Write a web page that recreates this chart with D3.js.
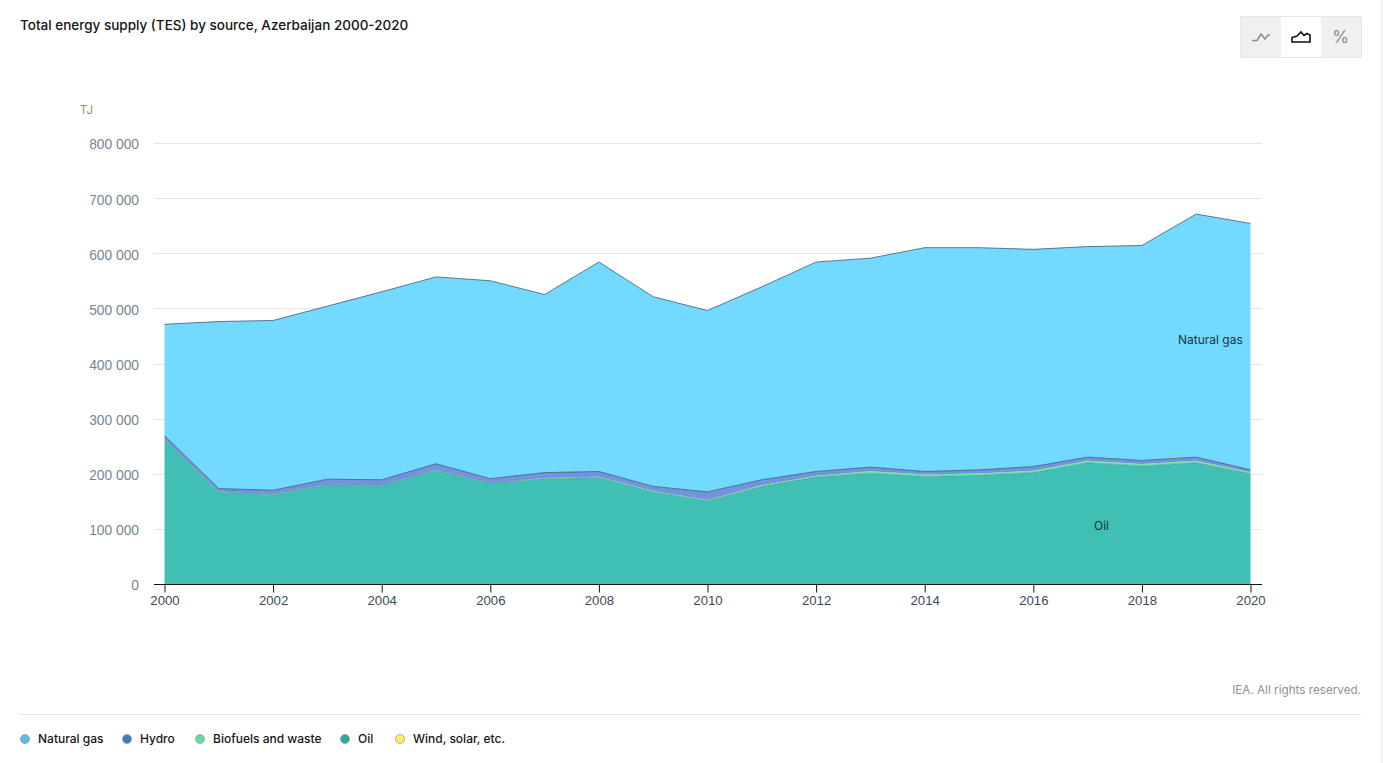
<!DOCTYPE html>
<html>
<head>
<meta charset="utf-8">
<script src="https://cdn.jsdelivr.net/npm/d3@7"></script>
<style>
  html, body { margin: 0; padding: 0; background: #fff; overflow: hidden; }
  svg { display: block; font-family: Inter, "Noto Sans", sans-serif; }
</style>
</head>
<body>
<script>
// data (TJ)
const years = d3.range(2000, 2021);
const oil = [262000, 168000, 163000, 181000, 179000, 207000, 183000, 192000, 194000, 168000, 152000, 178000, 195000, 202000, 196000, 198000, 203000, 221000, 215000, 221000, 201000];
const biofuels = [500, 500, 500, 500, 500, 500, 500, 1000, 1500, 1500, 1500, 2000, 2500, 3500, 3500, 3500, 3500, 3500, 3500, 3500, 2500];
const hydro = [7500, 5500, 7500, 9500, 10500, 11500, 8500, 10000, 9500, 8500, 14500, 10000, 7500, 7500, 5500, 6500, 7500, 6500, 6500, 6500, 4500];
const gas = [202000, 303000, 308000, 314000, 341000, 339000, 359000, 323000, 380000, 344000, 329000, 350000, 380000, 379000, 406000, 403000, 394000, 382000, 390000, 441000, 447000];
const wind = [0, 0, 0, 0, 0, 0, 0, 0, 0, 0, 0, 0, 0, 0, 0, 0, 0, 0, 0, 0, 0];

const yTicks = [0, 100000, 200000, 300000, 400000, 500000, 600000, 700000, 800000];
const xTicks = [2000, 2002, 2004, 2006, 2008, 2010, 2012, 2014, 2016, 2018, 2020];

const seriesKeys = ["oil", "biofuels", "hydro", "gas", "wind"];
const seriesColors = { oil: "#3abeb2", biofuels: "#6fe6a2", hydro: "#6f90dc", gas: "#6fd8ff", wind: "#f5e663" };
const lineOpacity = { oil: 0.3, biofuels: 0, hydro: 0.75, gas: 0.75, wind: 0 };
const legendNames = ["Natural gas", "Hydro", "Biofuels and waste", "Oil", "Wind, solar, etc."];
const legendColors = ["#5cbce6", "#3a7cc4", "#66dba0", "#2fa89c", "#fcef62"];
const legendX = [25, 127, 200, 345, 400];

const w = 1383;
const h = 763;

const table = years.map((year, i) => ({
  year,
  oil: oil[i],
  biofuels: biofuels[i],
  hydro: hydro[i],
  gas: gas[i],
  wind: wind[i],
}));

const xScale = d3.scaleLinear().domain([2000, 2020]).range([164.5, 1250.5]);
const yScale = d3.scaleLinear().domain([0, 800000]).range([584.5, 143.5]);

const svg = d3.select("body").append("svg").attr("width", w).attr("height", h);

// page edge on the right
svg.append("line")
  .attr("x1", 1381.5).attr("x2", 1381.5)
  .attr("y1", 0).attr("y2", h)
  .attr("stroke", "#ececec");

// title
svg.append("text")
  .attr("x", 20).attr("y", 30)
  .attr("font-size", 13.5).attr("font-weight", 500)
  .attr("fill", "#141414")
  .text("Total energy supply (TES) by source, Azerbaijan 2000-2020");

// unit
svg.append("text")
  .attr("x", 80).attr("y", 114)
  .attr("font-size", 11.5).attr("fill", "#b08a63")
  .text("TJ");

// y axis and grid
const yAxis = d3.axisLeft(yScale)
  .tickValues(yTicks)
  .tickSize(0)
  .tickPadding(0)
  .tickFormat((d) => d3.format(",")(d).replace(/,/g, " "));

const yG = svg.append("g").attr("transform", "translate(139,1)").call(yAxis);
yG.select(".domain").remove();
yG.selectAll("text").attr("font-size", 13.8).attr("font-family", "inherit").attr("fill", "#76858f");

svg.append("g").selectAll("line")
  .data(yTicks.slice(1))
  .enter().append("line")
  .attr("x1", 154).attr("x2", 1262)
  .attr("y1", (d) => Math.floor(yScale(d)) + 0.5)
  .attr("y2", (d) => Math.floor(yScale(d)) + 0.5)
  .attr("stroke", "#e6e6e6");

// stacked areas
const stacked = d3.stack().keys(seriesKeys)(table);
const area = d3.area()
  .x((d) => xScale(d.data.year))
  .y0((d) => yScale(d[0]))
  .y1((d) => yScale(d[1]));
const topLine = d3.line()
  .x((d) => xScale(d.data.year))
  .y((d) => yScale(d[1]));

svg.append("g").selectAll("path")
  .data(stacked)
  .enter().append("path")
  .attr("d", area)
  .attr("fill", (d) => seriesColors[d.key])
  .attr("fill-opacity", (d) => (d.key === "wind" ? 0 : 0.97));

svg.append("g").selectAll("path")
  .data(stacked)
  .enter().append("path")
  .attr("d", topLine)
  .attr("fill", "none")
  .attr("stroke", "#33566b")
  .attr("stroke-opacity", (d) => lineOpacity[d.key])
  .attr("stroke-width", 1);

// x axis
const xAxis = d3.axisBottom(xScale)
  .tickValues(xTicks)
  .tickSize(8)
  .tickPadding(3)
  .tickFormat(d3.format("d"));

const xG = svg.append("g").attr("transform", "translate(0,584.5)").call(xAxis);
xG.select(".domain").attr("d", "M154,0H1262").attr("stroke", "#111");
xG.selectAll(".tick line").attr("stroke", "#111");
xG.selectAll("text").attr("font-size", 13.2).attr("font-family", "inherit").attr("fill", "#3d4a57");

// labels on the areas
svg.append("text")
  .attr("x", 1178).attr("y", 344)
  .attr("font-size", 12).attr("fill", "#1c3340")
  .text("Natural gas");
svg.append("text")
  .attr("x", 1094).attr("y", 530)
  .attr("font-size", 12).attr("fill", "#10312e")
  .text("Oil");

// view switch
const switchG = svg.append("g");
switchG.append("rect")
  .attr("x", 1240.5).attr("y", 16.5)
  .attr("width", 121).attr("height", 41)
  .attr("fill", "#f0f0f0").attr("stroke", "#e6e6e6");
switchG.append("rect")
  .attr("x", 1281).attr("y", 17)
  .attr("width", 40).attr("height", 40)
  .attr("fill", "#fff");
switchG.append("path")
  .attr("d", "M1252,40.5H1257L1261,34L1265,39L1268,35H1270")
  .attr("fill", "none").attr("stroke", "#8c8c8c").attr("stroke-width", 1.5);
switchG.append("path")
  .attr("d", "M1292,42V37.5L1297,36L1301,32L1304,35.5L1307,33.5L1310,35V42Z")
  .attr("fill", "none").attr("stroke", "#111").attr("stroke-width", 1.6);
switchG.append("text")
  .attr("x", 1340.5).attr("y", 43)
  .attr("text-anchor", "middle")
  .attr("font-size", 17).attr("fill", "#8c8c8c")
  .text("%");

// footer
svg.append("text")
  .attr("x", 1361).attr("y", 694)
  .attr("text-anchor", "end")
  .attr("font-size", 11.7).attr("fill", "#8b9299")
  .text("IEA. All rights reserved.");

svg.append("line")
  .attr("x1", 20).attr("x2", 1361)
  .attr("y1", 714.5).attr("y2", 714.5)
  .attr("stroke", "#e6e6e6");

// legend
const legend = svg.append("g").selectAll("g")
  .data(legendNames)
  .enter().append("g")
  .attr("transform", (d, i) => "translate(" + legendX[i] + ",739)");

legend.append("circle")
  .attr("r", 4.5)
  .attr("fill", (d, i) => legendColors[i])
  .attr("stroke", "#8a9aa5")
  .attr("stroke-width", 0.75);

legend.append("text")
  .attr("x", 13).attr("y", 4)
  .attr("font-size", 12).attr("font-weight", 500)
  .attr("fill", "#141414")
  .text((d) => d);
</script>
</body>
</html>
